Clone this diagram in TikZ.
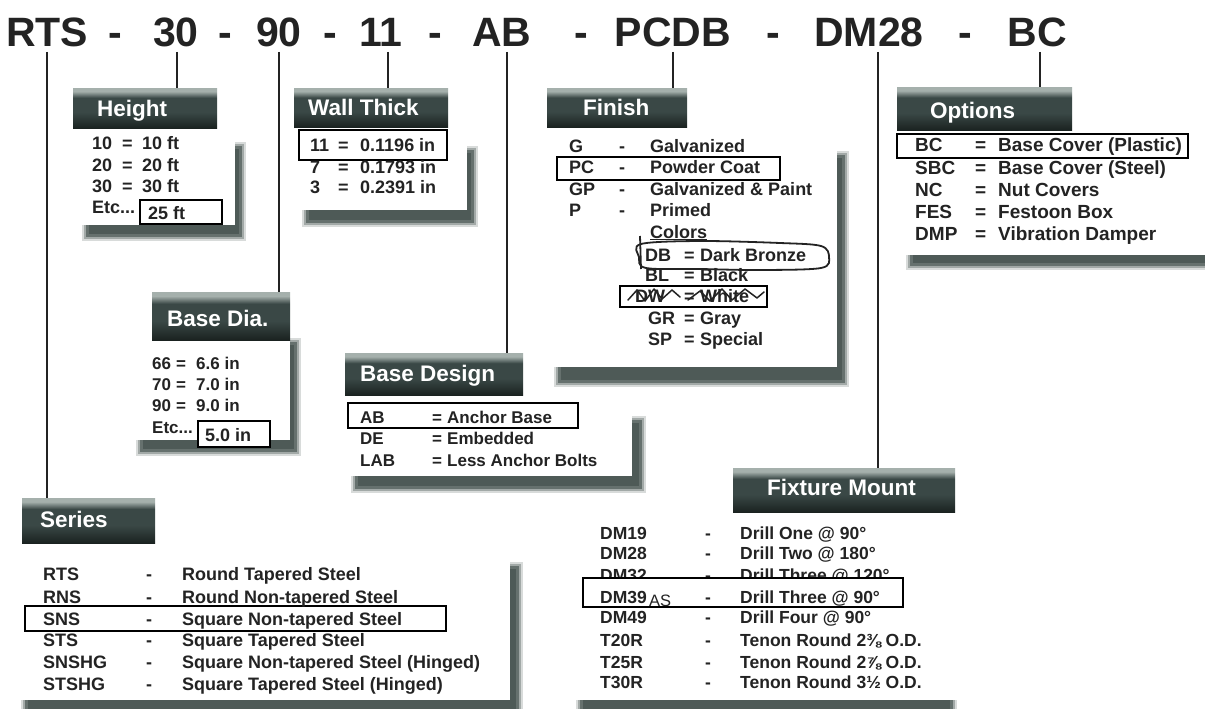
\documentclass[tikz,border=0pt]{standalone}
\usepackage{fontspec}
\setmainfont{Liberation Sans}
\definecolor{ink}{RGB}{35,35,35}
\definecolor{hdrL}{RGB}{165,176,172}
\definecolor{hdrM}{RGB}{58,72,70}
\definecolor{hdrD}{RGB}{26,34,32}
\definecolor{shd}{RGB}{62,76,73}
\pgfdeclareverticalshading{hdrshade}{100bp}{color(0bp)=(hdrD); color(25bp)=(hdrD); color(45bp)=(hdrM); color(63bp)=(hdrM); color(71bp)=(hdrL); color(75bp)=(hdrL); color(100bp)=(hdrL)}
\newcommand{\trio}[8]{\node[#1] (#2a) at (#3) {#4}; \node[#1] (#2b) at (#5) {#6}; \node[#1] (#2c) at (#7) {#8};}
\newcommand{\panelshadow}[4]{%
  \fill[shd,opacity=.2] (#1-4,#2-4) rectangle (#3+4,#4+4);
  \fill[shd,opacity=.35] (#1-2,#2-2) rectangle (#3+2,#4+2);
  \fill[shd,opacity=.6] (#1,#2) rectangle (#3,#4);
  \fill[shd,opacity=.6] (#1+3,#2+3) rectangle (#3-3,#4-3);}
\begin{document}
\begin{tikzpicture}[x=1pt,y=-1pt,
  body/.style={font=\bfseries\fontsize{#1}{20}\selectfont, text=ink, inner sep=0pt, anchor=base west},
  body/.default=18,
  htxt/.style={font=\bfseries\fontsize{22.5}{26}\selectfont, text=white, inner sep=0pt, anchor=base west},
  ttl/.style={font=\bfseries\fontsize{41}{48}\selectfont, text=ink, inner sep=0pt, anchor=base},
  hbox/.style={shade, shading=hdrshade, draw=none, inner sep=0pt, anchor=north west},
  selbox/.style={draw=black, line width=1.3pt, fill=white},
  conn/.style={draw=ink, line width=2.2pt},
  scrib/.style={draw=ink, line width=1.5pt, line join=round, line cap=round}]
\useasboundingbox (0,0) rectangle (1205,709);
\clip (0,0) rectangle (1205,709);
\fill[white] (0,0) rectangle (1205,709);

% ---------- title ----------
\node[ttl] (t1) at (47,47) {RTS};
\node[ttl] (d1) at (115,47) {-};
\node[ttl] (t2) at (176,47) {30};
\node[ttl] (d2) at (225,47) {-};
\node[ttl] (t3) at (279,47) {90};
\node[ttl] (d3) at (330,47) {-};
\node[ttl] (t4) at (381,47) {11};
\node[ttl] (d4) at (435,47) {-};
\node[ttl] (t5) at (502,47) {AB};
\node[ttl] (d5) at (581,47) {-};
\node[ttl] (t6) at (673,47) {PCDB};
\node[ttl] (d6) at (773,47) {-};
\node[ttl] (t7) at (869,47) {DM28};
\node[ttl] (d7) at (965,47) {-};
\node[ttl] (t8) at (1037,47) {BC};

% ---------- panel shadows ----------
\panelshadow{86}{146}{242}{237}
\panelshadow{306}{150}{474}{223}
\panelshadow{558}{155}{845}{383}
\panelshadow{910}{150}{1215}{266}
\panelshadow{140}{342}{297}{452}
\panelshadow{355}{420}{642}{489}
\panelshadow{25}{566}{519}{716}
\panelshadow{580}{530}{953}{712}

% ---------- white areas ----------
\fill[white] (78,128) rectangle (235,225);
\fill[white] (296,127) rectangle (467,210);
\fill[white] (550,127) rectangle (837,367);
\fill[white] (893,130) rectangle (1210,255);
\fill[white] (130,337) rectangle (290,440);
\fill[white] (343,393) rectangle (632,476);
\fill[white] (18,543) rectangle (510,700);
\fill[white] (572,512) rectangle (960,700);

% ---------- headers ----------
\node[hbox, minimum width=144pt, minimum height=40pt] (hHeight) at (73,88) {};
\node[htxt] (lHeight) at (97,116) {Height};
\node[hbox, minimum width=154pt, minimum height=39pt] (hWall) at (294,88) {};
\node[htxt] (lWall) at (308,115) {Wall Thick};
\node[hbox, minimum width=140pt, minimum height=39pt] (hFinish) at (547,88) {};
\node[htxt] (lFinish) at (583,115) {Finish};
\node[hbox, minimum width=175pt, minimum height=43pt] (hOptions) at (897,87) {};
\node[htxt] (lOptions) at (930,118) {Options};
\node[hbox, minimum width=138pt, minimum height=48pt] (hDia) at (152,292) {};
\node[htxt] (lDia) at (167,326) {Base Dia.};
\node[hbox, minimum width=178pt, minimum height=42pt] (hDesign) at (345,353) {};
\node[htxt] (lDesign) at (360,381) {Base Design};
\node[hbox, minimum width=133pt, minimum height=45pt] (hSeries) at (22,498) {};
\node[htxt] (lSeries) at (40,527) {Series};
\node[hbox, minimum width=222pt, minimum height=44pt] (hFixture) at (733,468) {};
\node[htxt] (lFixture) at (767,495) {Fixture Mount};

% ---------- connectors ----------
\coordinate (k1) at (47,52);
\coordinate (k2) at (177,52);
\coordinate (k3) at (279,52);
\coordinate (k4) at (388,52);
\coordinate (k5) at (507,52);
\coordinate (k6) at (673,52);
\coordinate (k7) at (878,52);
\coordinate (k8) at (1040,52);
\draw[conn] (k1) -- (k1 |- hSeries.north);
\draw[conn] (k2) -- (k2 |- hHeight.north);
\draw[conn] (k3) -- (k3 |- hDia.north);
\draw[conn] (k4) -- (k4 |- hWall.north);
\draw[conn] (k5) -- (k5 |- hDesign.north);
\draw[conn] (k6) -- (k6 |- hFinish.north);
\draw[conn] (k7) -- (k7 |- hFixture.north);
\draw[conn] (k8) -- (k8 |- hOptions.north);

% ---------- Height ----------
\trio{body}{ha}{92,149}{10}{122,149}{=}{142,149}{10 ft}
\trio{body}{hb}{92,171}{20}{122,171}{=}{142,171}{20 ft}
\trio{body}{hc}{92,192}{30}{122,192}{=}{142,192}{30 ft}
\node[body] (hd) at (92,213) {Etc...};
\draw[selbox] (140,200) rectangle (222,224);
\node[body] (he) at (148,219) {25 ft};

% ---------- Wall Thick ----------
\draw[selbox] (299,130) rectangle (447,160);
\trio{body}{wa}{310,151}{11}{338,151}{=}{360,151}{0.1196 in}
\trio{body}{wb}{310,173}{7}{338,173}{=}{360,173}{0.1793 in}
\trio{body}{wc}{310,193}{3}{338,193}{=}{360,193}{0.2391 in}

% ---------- Finish ----------
\draw[selbox] (557,157) rectangle (780,180);
\trio{body}{fa}{569,152}{G}{619,152}{-}{650,152}{Galvanized}
\trio{body}{fb}{569,173}{PC}{619,173}{-}{650,173}{Powder Coat}
\trio{body}{fc}{569,195}{GP}{619,195}{-}{650,195}{Galvanized \& Paint}
\trio{body}{fd}{569,216}{P}{619,216}{-}{650,216}{Primed}
\node[body] (fe) at (650,238) {\underline{Colors}};
\trio{body}{fg}{645,261}{DB}{684,261}{=}{700,261}{Dark Bronze}
\trio{body}{fh}{645,281}{BL}{684,281}{=}{700,281}{Black}
\draw[selbox] (620,286) rectangle (767,307);
\trio{body}{fi}{635,302}{DW}{684,302}{=}{700,302}{White}
\trio{body}{fj}{648,324}{GR}{684,324}{=}{700,324}{Gray}
\trio{body}{fk}{648,345}{SP}{684,345}{=}{700,345}{Special}
\draw[line width=1.8pt, draw=ink] plot[smooth cycle, tension=0.55] coordinates {(641,244) (700,241) (780,243) (821,246) (829,257) (821,268) (760,270) (700,269) (646,268) (639,257)};
\draw[line width=1.8pt, draw=ink] (640,236) -- (641,269);
\draw[scrib] (628,300) -- (637,290) -- (645,301) -- (654,289) -- (662,299) -- (672,290) -- (680,297);
\draw[scrib] (688,300) -- (700,291) -- (710,301) -- (722,289) -- (732,300) -- (745,289) -- (757,298) -- (764,292);

% ---------- Options ----------
\draw[selbox] (897,134) rectangle (1188,158);
\trio{body=19}{oa}{915,151}{BC}{975,151}{=}{998,151}{Base Cover (Plastic)}
\trio{body=19}{ob}{915,174}{SBC}{975,174}{=}{998,174}{Base Cover (Steel)}
\trio{body=19}{oc}{915,196}{NC}{975,196}{=}{998,196}{Nut Covers}
\trio{body=19}{od}{915,218}{FES}{975,218}{=}{998,218}{Festoon Box}
\trio{body=19}{oe}{915,240}{DMP}{975,240}{=}{998,240}{Vibration Damper}

% ---------- Base Dia ----------
\trio{body=17}{ba}{152,369}{66}{176,369}{=}{196,369}{6.6 in}
\trio{body=17}{bb}{152,390}{70}{176,390}{=}{196,390}{7.0 in}
\trio{body=17}{bc}{152,411}{90}{176,411}{=}{196,411}{9.0 in}
\node[body=17] (bd) at (152,433) {Etc...};
\draw[selbox] (198,421) rectangle (270,447);
\node[body] (be) at (205,441) {5.0 in};

% ---------- Base Design ----------
\draw[selbox] (348,403) rectangle (578,428);
\trio{body=17}{da}{360,423}{AB}{432,423}{=}{447,423}{Anchor Base}
\trio{body=17}{db}{360,444}{DE}{432,444}{=}{447,444}{Embedded}
\trio{body=17}{dc}{360,466}{LAB}{432,466}{=}{447,466}{Less Anchor Bolts}

% ---------- Series ----------
\draw[selbox] (25,606) rectangle (446,631);
\trio{body}{sa}{43,580}{RTS}{146,580}{-}{182,580}{Round Tapered Steel}
\trio{body}{sb}{43,603}{RNS}{146,603}{-}{182,603}{Round Non-tapered Steel}
\trio{body}{sc}{43,625}{SNS}{146,625}{-}{182,625}{Square Non-tapered Steel}
\trio{body}{sd}{43,646}{STS}{146,646}{-}{182,646}{Square Tapered Steel}
\trio{body}{se}{43,668}{SNSHG}{146,668}{-}{182,668}{Square Non-tapered Steel (Hinged)}
\trio{body}{sf}{43,690}{STSHG}{146,690}{-}{182,690}{Square Tapered Steel (Hinged)}

% ---------- Fixture Mount ----------
\trio{body=17.5}{ma}{600,539}{DM19}{705,539}{-}{740,539}{Drill One @ 90°}
\trio{body=17.5}{mb}{600,559}{DM28}{705,559}{-}{740,559}{Drill Two @ 180°}
\trio{body=17.5}{mc}{600,581}{DM32}{705,581}{-}{740,581}{Drill Three @ 120°}
\draw[selbox] (583,578) rectangle (903,607);
\trio{body=17.5}{md}{600,603}{DM39}{705,603}{-}{740,603}{Drill Three @ 90°}
\node[font=\fontsize{16.5}{20}\selectfont, text=ink, inner sep=0pt, anchor=base west] (mas) at (649,606) {AS};
\trio{body=17.5}{me}{600,623}{DM49}{705,623}{-}{740,623}{Drill Four @ 90°}
\trio{body=17.5}{mf}{600,646}{T20R}{705,646}{-}{740,646}{Tenon Round 2⅜ O.D.}
\trio{body=17.5}{mg}{600,668}{T25R}{705,668}{-}{740,668}{Tenon Round 2⅞ O.D.}
\trio{body=17.5}{mh}{600,688}{T30R}{705,688}{-}{740,688}{Tenon Round 3½ O.D.}
\end{tikzpicture}
\end{document}
